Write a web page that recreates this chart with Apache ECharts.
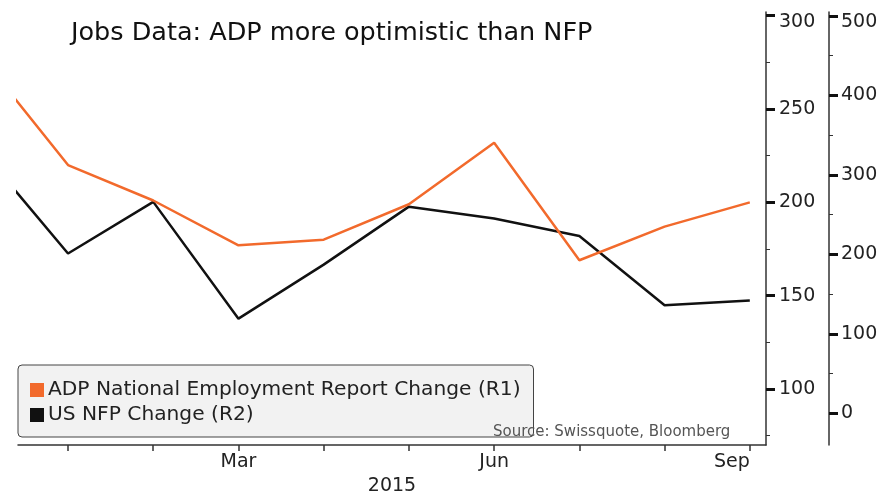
<!DOCTYPE html>
<html>
<head>
<meta charset="utf-8">
<script src="https://cdn.jsdelivr.net/npm/echarts@6/dist/echarts.min.js"></script>
<style>html,body{margin:0;padding:0;background:#fff}#c{width:892px;height:496px}</style>
</head>
<body>
<div id="c"></div>
<script>
// Data (monthly, Dec 2014 .. Sep 2015)
var months = ['Dec','Jan','Feb','Mar','Apr','May','Jun','Jul','Aug','Sep'];
var adpChange = [277, 220, 201, 177, 180, 199, 232, 169, 187, 200];
var nfpChange = [329, 201, 266, 119, 187, 260, 245, 223, 136, 142];
var xTickIdx = [1,2,3,4,5,6,7,8,9];
var xLabelIdx = [3,6,9];
var r1Ticks = [100,150,200,250,300];
var r1Minor = [75,125,175,225,275];
var r2Ticks = [0,100,200,300,400,500];
var r2Minor = [50,150,250,350,450];
var seriesNames = ['ADP National Employment Report Change (R1)', 'US NFP Change (R2)'];

var FONT = 'DejaVu Sans';
var chart = echarts.init(document.getElementById('c'), null, {renderer:'canvas'});
function pairs(arr){ return arr.map(function(v,i){ return [i, v]; }); }
function topLabel(maxV){
  return function(v){ return v === maxV ? '{m|' + v + '}' : String(v); };
}
var labelRich = {m: {fontFamily: FONT, fontSize: 19, color: '#222', padding: [12, 0, 0, 0]}};

var option = {
  animation: false,
  backgroundColor: '#ffffff',
  textStyle: {fontFamily: FONT},
  title: {
    text: 'Jobs Data: ADP more optimistic than NFP',
    left: 66, top: 15,
    textStyle: {fontFamily: FONT, fontSize: 25.5, fontWeight: 'normal', color: '#111'}
  },
  grid: {left: 18, right: 126, top: 12, bottom: 51, outerBoundsMode: 'none', containLabel: false},
  legend: {
    orient: 'vertical', left: 18, top: 365,
    data: seriesNames,
    icon: 'rect', itemWidth: 14, itemHeight: 14, itemGap: 5,
    padding: [15, 13, 12, 12],
    backgroundColor: '#f2f2f2', borderColor: '#444', borderWidth: 1, borderRadius: 4,
    textStyle: {fontFamily: FONT, fontSize: 20.2, color: '#222', padding: [0,0,0,-1]},
    selectedMode: false
  },
  xAxis: {
    type: 'value', min: 0.413, max: 9.19,
    name: '2015', nameLocation: 'middle', nameGap: 31,
    nameTextStyle: {fontFamily: FONT, fontSize: 19, color: '#222'},
    splitLine: {show: false},
    axisLine: {show: true, onZero: false, lineStyle: {color: '#333', width: 1.5}},
    axisTick: {show: true, length: 6, customValues: xTickIdx, lineStyle: {color: '#333', width: 1.5}},
    axisLabel: {customValues: xLabelIdx, formatter: function(v){ return months[Math.round(v)]; },
      fontFamily: FONT, fontSize: 19, color: '#222', margin: 8, alignMaxLabel: 'right'}
  },
  yAxis: [
    {type: 'value', position: 'right', offset: 0, min: 70, max: 302,
     splitLine: {show: false},
     axisLine: {show: true, onZero: false, lineStyle: {color: '#333', width: 1.5}},
     axisTick: {show: true, length: 9, customValues: r1Ticks, lineStyle: {color: '#111', width: 3}},
     axisLabel: {customValues: r1Ticks, formatter: topLabel(300), rich: labelRich,
       fontFamily: FONT, fontSize: 19, color: '#222', margin: 13}},
    {type: 'value', position: 'right', offset: 63, min: -40, max: 505,
     splitLine: {show: false},
     axisLine: {show: true, onZero: false, lineStyle: {color: '#333', width: 1.5}},
     axisTick: {show: true, length: 9, customValues: r2Ticks, lineStyle: {color: '#111', width: 3}},
     axisLabel: {customValues: r2Ticks, formatter: topLabel(500), rich: labelRich,
       fontFamily: FONT, fontSize: 19, color: '#222', margin: 12}},
    {type: 'value', position: 'right', offset: 0, min: 70, max: 302,
     splitLine: {show: false}, axisLine: {show: false, onZero: false}, axisLabel: {show: false},
     axisTick: {show: true, length: 4, customValues: r1Minor, lineStyle: {color: '#333', width: 1}}},
    {type: 'value', position: 'right', offset: 63, min: -40, max: 505,
     splitLine: {show: false}, axisLine: {show: false, onZero: false}, axisLabel: {show: false},
     axisTick: {show: true, length: 4, customValues: r2Minor, lineStyle: {color: '#333', width: 1}}}
  ],
  series: [
    {name: seriesNames[0], type: 'line', yAxisIndex: 0, data: pairs(adpChange),
     showSymbol: false, symbol: 'none', clip: true,
     itemStyle: {color: '#f26a2c'}, lineStyle: {color: '#f26a2c', width: 2.5}, z: 3},
    {name: seriesNames[1], type: 'line', yAxisIndex: 1, data: pairs(nfpChange),
     showSymbol: false, symbol: 'none', clip: true,
     itemStyle: {color: '#111111'}, lineStyle: {color: '#111111', width: 2.5}, z: 2}
  ],
  graphic: [
    {type: 'text', left: 493, top: 425, z: 100,
     style: {text: 'Source: Swissquote, Bloomberg', fontFamily: FONT, fontSize: 15, fill: '#555'}}
  ]
};
chart.setOption(option);
</script>
</body>
</html>
